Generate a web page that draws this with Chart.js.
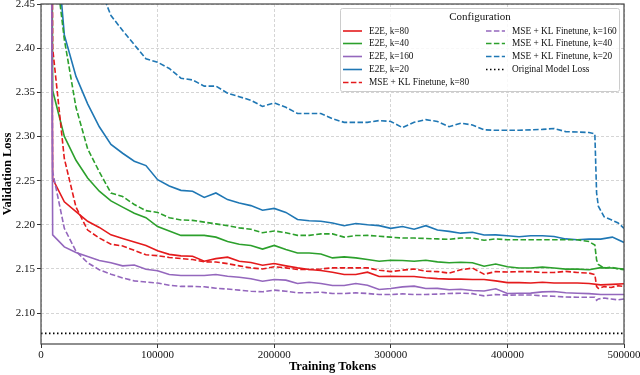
<!DOCTYPE html>
<html>
<head>
<meta charset="utf-8">
<script src="https://cdn.jsdelivr.net/npm/chart.js@4"></script>
<style>
  html, body { margin: 0; padding: 0; background: #fff; }
  canvas { display: block; }
</style>
</head>
<body>
<canvas id="lossChart" width="640" height="375"></canvas>
<script>
const tokens = [0, 10000, 20000, 30000, 40000, 50000, 60000, 70000, 80000, 90000,
  100000, 110000, 120000, 130000, 140000, 150000, 160000, 170000, 180000, 190000,
  200000, 210000, 220000, 230000, 240000, 250000, 260000, 270000, 280000, 290000,
  300000, 310000, 320000, 330000, 340000, 350000, 360000, 370000, 380000, 390000,
  400000, 410000, 420000, 430000, 440000, 450000, 460000, 470000, 480000, 490000, 500000];
// finetune runs are evaluated more often at the very end
const ftTail = [475000, 476500, 478000, 483000, 489000, 495000, 500000];
const ftTokens = tokens.slice(0, 48).concat(ftTail);

const e2e80 = [5.5, 2.252, 2.226, 2.215, 2.204, 2.197, 2.1886, 2.1845, 2.1805, 2.1765,
  2.1705, 2.1665, 2.1648, 2.1644, 2.1587, 2.1617, 2.1633, 2.1587, 2.1572, 2.1542,
  2.1561, 2.1535, 2.1512, 2.1493, 2.1482, 2.1463, 2.1437, 2.1437, 2.1463, 2.1414,
  2.1418, 2.1414, 2.1414, 2.140, 2.139, 2.1385, 2.1385, 2.138, 2.138, 2.1365,
  2.1345, 2.1345, 2.134, 2.135, 2.134, 2.134, 2.134, 2.1335, 2.132, 2.1325, 2.1332];
const e2e40 = [5.5, 2.352, 2.300, 2.273, 2.253, 2.238, 2.227, 2.220, 2.213, 2.208,
  2.198, 2.193, 2.188, 2.188, 2.188, 2.186, 2.181, 2.178, 2.1765, 2.1725,
  2.1766, 2.172, 2.168, 2.168, 2.167, 2.1625, 2.1637, 2.1625, 2.1606, 2.1587,
  2.1599, 2.1595, 2.1587, 2.1599, 2.158, 2.157, 2.1575, 2.157, 2.153, 2.1555,
  2.1525, 2.151, 2.151, 2.152, 2.151, 2.1498, 2.1498, 2.149, 2.1515, 2.151, 2.150];
const e2e160 = [5.5, 2.1886, 2.175, 2.1686, 2.164, 2.1595, 2.157, 2.1535, 2.1545, 2.1497,
  2.148, 2.1437, 2.1425, 2.1425, 2.1425, 2.1437, 2.1418, 2.1406, 2.1388, 2.1361,
  2.138, 2.1373, 2.1335, 2.135, 2.1335, 2.1312, 2.1312, 2.1335, 2.1316, 2.1267,
  2.1278, 2.1297, 2.1305, 2.1278, 2.128, 2.1265, 2.127, 2.1255, 2.125, 2.1275,
  2.1222, 2.1225, 2.1226, 2.124, 2.1245, 2.123, 2.1225, 2.122, 2.121, 2.121, 2.121];
const e2e20 = [5.5, 2.57, 2.415, 2.368, 2.337, 2.311, 2.291, 2.281, 2.272, 2.267,
  2.251, 2.244, 2.239, 2.238, 2.231, 2.236, 2.2285, 2.2247, 2.2217, 2.2165,
  2.2185, 2.214, 2.206, 2.2045, 2.204, 2.202, 2.199, 2.2015, 2.200, 2.199,
  2.196, 2.198, 2.195, 2.199, 2.194, 2.1925, 2.1905, 2.1915, 2.1884, 2.1886,
  2.1875, 2.1865, 2.1875, 2.1875, 2.1867, 2.184, 2.183, 2.1838, 2.1838, 2.186, 2.180];

const ft80 = [5.5, 2.40, 2.275, 2.22, 2.194, 2.185, 2.178, 2.176, 2.171, 2.166,
  2.165, 2.163, 2.1617, 2.1606, 2.158, 2.1578, 2.156, 2.1535, 2.1512, 2.150,
  2.1525, 2.1512, 2.1493, 2.1493, 2.150, 2.1512, 2.1512, 2.1512, 2.1512, 2.1486,
  2.147, 2.1486, 2.150, 2.1474, 2.147, 2.1453, 2.149, 2.151, 2.144, 2.147,
  2.1465, 2.147, 2.147, 2.146, 2.146, 2.1472, 2.146, 2.1453,
  2.1437, 2.130, 2.128, 2.130, 2.129, 2.131, 2.130];
const ft160 = [5.5, 2.26, 2.196, 2.170, 2.157, 2.149, 2.144, 2.1398, 2.1365, 2.1352,
  2.134, 2.1316, 2.1302, 2.1302, 2.1298, 2.1282, 2.1272, 2.126, 2.1248, 2.1241,
  2.126, 2.1248, 2.123, 2.123, 2.1237, 2.1222, 2.1222, 2.123, 2.1222, 2.121,
  2.121, 2.1218, 2.121, 2.121, 2.1215, 2.1222, 2.1225, 2.122, 2.1195, 2.121,
  2.1203, 2.1205, 2.1205, 2.1195, 2.119, 2.1182, 2.118, 2.118,
  2.118, 2.1145, 2.116, 2.117, 2.116, 2.115, 2.116];
const ft40 = [5.5, 2.52, 2.41, 2.333, 2.286, 2.26, 2.236, 2.232, 2.223, 2.216,
  2.214, 2.208, 2.2055, 2.205, 2.203, 2.201, 2.199, 2.1965, 2.195, 2.191,
  2.193, 2.191, 2.188, 2.188, 2.1897, 2.1897, 2.186, 2.1878, 2.188, 2.187,
  2.186, 2.185, 2.185, 2.1845, 2.184, 2.1835, 2.185, 2.185, 2.1825, 2.184,
  2.183, 2.183, 2.183, 2.183, 2.183, 2.183, 2.183, 2.181,
  2.177, 2.160, 2.155, 2.151, 2.152, 2.150, 2.149];
const ft20 = [5.5, 3.0, 2.75, 2.60, 2.52, 2.47, 2.437, 2.42, 2.404, 2.388,
  2.384, 2.377, 2.366, 2.364, 2.357, 2.357, 2.349, 2.345, 2.341, 2.334,
  2.338, 2.333, 2.326, 2.326, 2.326, 2.320, 2.316, 2.316, 2.316, 2.318,
  2.317, 2.310, 2.316, 2.319, 2.317, 2.311, 2.315, 2.313, 2.3075, 2.307,
  2.307, 2.307, 2.3075, 2.308, 2.309, 2.3055, 2.305, 2.3045,
  2.303, 2.236, 2.221, 2.209, 2.2056, 2.202, 2.196];

const originalLoss = 2.077;
const xTicks = [0, 100000, 200000, 300000, 400000, 500000];
const yTicks = [2.10, 2.15, 2.20, 2.25, 2.30, 2.35, 2.40, 2.45];

const RED = '#e41a1c', GREEN = '#2ca02c', PURPLE = '#9467bd', BLUE = '#1f77b4';
const DASH = [5.5, 2.4];

function pts(xs, ys) {
  return xs.map((x, i) => ({ x: x, y: ys[i] }));
}

function series(label, xs, ys, color, dash) {
  return {
    label: label,
    data: pts(xs, ys),
    borderColor: color,
    backgroundColor: color,
    borderWidth: 1.6,
    borderDash: dash || [],
    pointRadius: 0,
    tension: 0,
    fill: false,
  };
}

const datasets = [
  series('E2E, k=80', tokens, e2e80, RED),
  series('E2E, k=40', tokens, e2e40, GREEN),
  series('E2E, k=160', tokens, e2e160, PURPLE),
  series('E2E, k=20', tokens, e2e20, BLUE),
  series('MSE + KL Finetune, k=80', ftTokens, ft80, RED, DASH),
  series('MSE + KL Finetune, k=160', ftTokens, ft160, PURPLE, DASH),
  series('MSE + KL Finetune, k=40', ftTokens, ft40, GREEN, DASH),
  series('MSE + KL Finetune, k=20', ftTokens, ft20, BLUE, DASH),
  series('Original Model Loss', [0, 500000], [originalLoss, originalLoss], '#000', [1.5, 2.5]),
];
// matplotlib stacks later lines on top
datasets.forEach((ds, i) => { ds.order = datasets.length - i; });

const SERIF = '"Liberation Serif", "Times New Roman", serif';

// axes frame on all four sides
const framePlugin = {
  id: 'frame',
  afterDatasetsDraw(chart) {
    const a = chart.chartArea, ctx = chart.ctx;
    ctx.save();
    ctx.strokeStyle = '#444';
    ctx.lineWidth = 1.2;
    ctx.setLineDash([]);
    ctx.strokeRect(a.left, a.top, a.right - a.left, a.bottom - a.top);
    ctx.restore();
  },
};

// two-column legend box, top right
const legendBox = {
  id: 'legendBox',
  afterDraw(chart) {
    const ctx = chart.ctx;
    const box = { x: 340, y: 8, w: 279, h: 83 };
    ctx.save();
    ctx.fillStyle = 'rgba(255,255,255,0.85)';
    ctx.strokeStyle = '#cccccc';
    ctx.lineWidth = 1;
    ctx.beginPath();
    ctx.roundRect(box.x + 0.5, box.y + 0.5, box.w, box.h, 2);
    ctx.fill();
    ctx.stroke();

    ctx.fillStyle = '#111';
    ctx.font = '11px ' + SERIF;
    ctx.textAlign = 'center';
    ctx.textBaseline = 'middle';
    ctx.fillText('Configuration', 480, 17);

    ctx.font = '9.3px ' + SERIF;
    ctx.textAlign = 'left';
    const rowY = [31, 43.5, 56.5, 69.5, 82.5];
    chart.data.datasets.forEach((ds, i) => {
      const col = i < 5 ? 0 : 1;
      const row = i < 5 ? i : i - 5;
      const lx = col === 0 ? 343 : 486;
      const y = rowY[row];
      ctx.strokeStyle = ds.borderColor;
      ctx.lineWidth = ds.borderWidth;
      ctx.setLineDash(ds.borderDash);
      ctx.beginPath();
      ctx.moveTo(lx, y);
      ctx.lineTo(lx + 19, y);
      ctx.stroke();
      ctx.setLineDash([]);
      ctx.fillStyle = '#111';
      ctx.fillText(ds.label, lx + 26, y + 0.5);
    });
    ctx.restore();
  },
};

new Chart(document.getElementById('lossChart'), {
  type: 'line',
  data: { datasets: datasets },
  options: {
    responsive: false,
    animation: false,
    layout: { padding: { left: 0, right: 16, top: 4, bottom: 0 } },
    plugins: {
      legend: { display: false },
      tooltip: { enabled: false },
    },
    scales: {
      x: {
        type: 'linear',
        min: 0,
        max: 500000,
        afterBuildTicks: (scale) => { scale.ticks = xTicks.map(v => ({ value: v })); },
        afterFit: (scale) => { scale.height = 31; scale.paddingLeft = 0; scale.paddingRight = 0; },
        ticks: {
          color: '#111',
          font: { family: SERIF, size: 11 },
          padding: 1,
          maxRotation: 0,
          callback: (v) => String(v),
        },
        grid: {
          color: 'rgba(185,185,185,0.75)',
          lineWidth: 0.8,
          tickColor: '#333',
          tickLength: 4,
          tickWidth: 1,
          tickBorderDash: [],
        },
        border: { display: false, dash: [3, 2] },
        title: {
          display: true,
          text: 'Training Tokens',
          color: '#000',
          font: { family: SERIF, size: 12.5, weight: 'bold' },
          padding: { top: 0, bottom: 1 },
        },
      },
      y: {
        min: 2.065,
        max: 2.45,
        afterBuildTicks: (scale) => { scale.ticks = yTicks.map(v => ({ value: v })); },
        afterFit: (scale) => { scale.width = 41; scale.paddingTop = 0; scale.paddingBottom = 0; },
        ticks: {
          color: '#111',
          font: { family: SERIF, size: 11 },
          padding: 2,
          callback: (v) => v.toFixed(2),
        },
        grid: {
          color: 'rgba(185,185,185,0.75)',
          lineWidth: 0.8,
          tickColor: '#333',
          tickLength: 4,
          tickWidth: 1,
          tickBorderDash: [],
        },
        border: { display: false, dash: [3, 2] },
        title: {
          display: true,
          text: 'Validation Loss',
          color: '#000',
          font: { family: SERIF, size: 12.5, weight: 'bold' },
          padding: { top: 0, bottom: 0 },
        },
      },
    },
  },
  plugins: [framePlugin, legendBox],
});
</script>
</body>
</html>
